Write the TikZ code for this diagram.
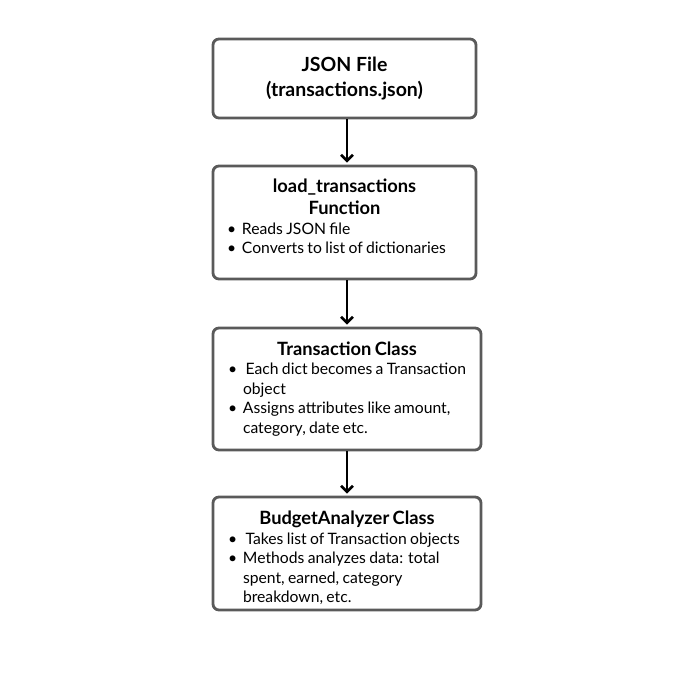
\documentclass[tikz,border=0pt]{standalone}
\usepackage{fontspec}
\setmainfont{Lato}
\usepackage{xcolor}
\usetikzlibrary{arrows.meta}

\definecolor{boxgray}{HTML}{5A5A5A}
\newcommand{\ttlfont}{\fontsize{18.3}{22}\selectfont\bfseries}
\newcommand{\bodyfont}{\fontsize{15.7}{19.5}\selectfont}
\newcommand{\bitem}[1]{\par\hangindent=18pt\hangafter=1\noindent\makebox[18pt][l]{\hspace{3pt}\textbullet}#1}

\begin{document}
\begin{tikzpicture}[x=1pt,y=1pt,
  box/.style={draw=boxgray,line width=2.8pt,rounded corners=6pt,fill=white,
              inner sep=0pt,align=left},
  arr/.style={-{Straight Barb[length=6pt,width=12pt]},line width=2.6pt,shorten >=2pt}
]
\useasboundingbox (0,0) rectangle (682,686);

%% Pipeline boxes
\node[box,minimum width=263,minimum height=79,align=center,
      font=\fontsize{19.5}{25}\selectfont\bfseries] (json) at (344.5,607.5)
  {JSON File\\(transactions.json)};

\node[box,minimum width=263,minimum height=113,text width=241] (load) at (344.5,463.5)
  {{\centering\ttlfont load\_transactions\\Function\par}
   \bodyfont
   \bitem{Reads JSON file}
   \bitem{Converts to list of dictionaries\rule[-12pt]{0pt}{12pt}}\par};

\node[box,minimum width=268,minimum height=122,text width=244] (trans) at (347,297)
  {{\centering\ttlfont Transaction Class\par}
   \bodyfont
   \bitem{\,Each dict becomes a Transaction\newline object}
   \bitem{Assigns attributes like amount,\newline category, date etc.}\par};

\node[box,minimum width=268,minimum height=113,text width=244] (budget) at (347,132.5)
  {{\centering\ttlfont\rule{0pt}{23pt}BudgetAnalyzer Class\par}
   \bodyfont
   \bitem{\,Takes list of Transaction objects}
   \bitem{Methods analyzes data: total\newline spent, earned, category\newline breakdown, etc.}\par};

%% Arrows
\draw[arr] (json.south -| trans.north) -- (load.north -| trans.north);
\draw[arr] (load.south -| trans.north) -- (trans.north);
\draw[arr] (trans.south) -- (budget.north);
\end{tikzpicture}
\end{document}
